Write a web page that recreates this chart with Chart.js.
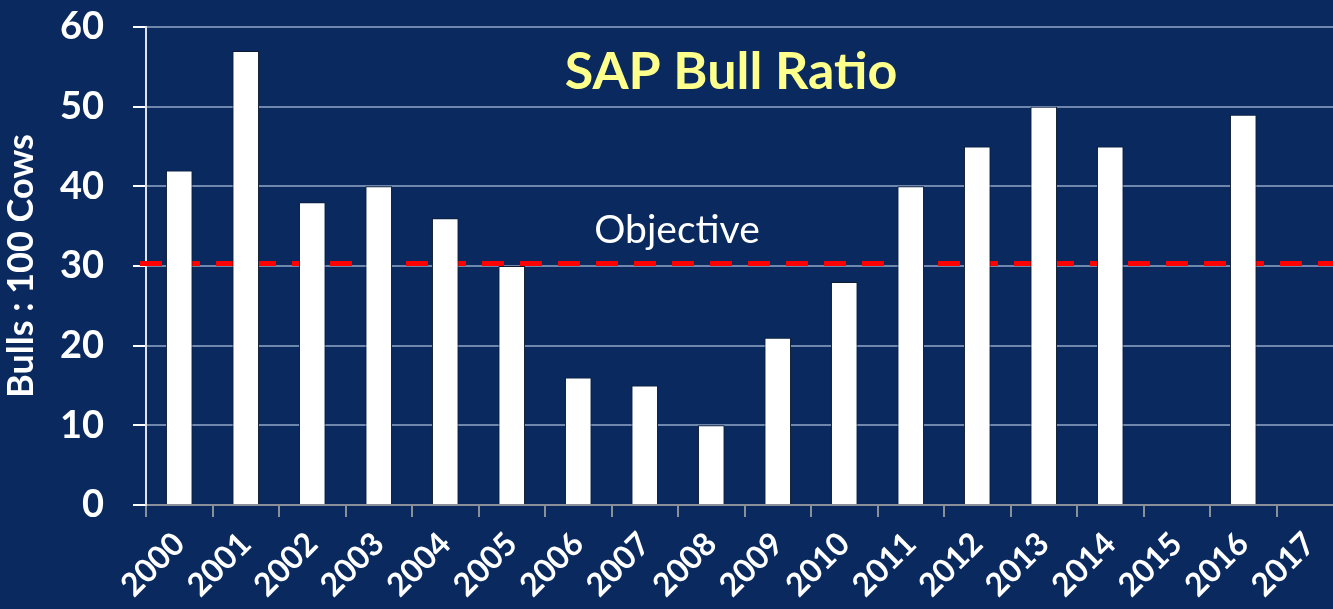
<!DOCTYPE html>
<html>
<head>
<meta charset="utf-8">
<script src="https://cdn.jsdelivr.net/npm/chart.js@4.4.1/dist/chart.umd.min.js"></script>
<style>
    html, body { margin: 0; padding: 0; background: #0a2a5f; overflow: hidden; }
    #wrap { width: 1345px; height: 609px; }
</style>
</head>
<body>
<div id="wrap"><canvas id="chart"></canvas></div>
<script>
"use strict";

const years = ["2000", "2001", "2002", "2003", "2004", "2005", "2006", "2007", "2008",
    "2009", "2010", "2011", "2012", "2013", "2014", "2015", "2016", "2017"];
const bullRatio = [42, 57, 38, 40, 36, 30, 16, 15, 10, 21, 28, 40, 45, 50, 45, null, 49, null];
const objective = 30.3;
const chartTitle = "SAP Bull Ratio";
const objectiveLabel = "Objective";
const yAxisTitle = "Bulls : 100 Cows";

const FONT = "Lato, 'Open Sans', sans-serif";

// red dashed objective line (behind the bars) + texts inside the plot
const overlay = {
    id: "overlay",
    beforeDatasetsDraw(chart) {
        const { ctx, chartArea, scales } = chart;
        const y = scales.y.getPixelForValue(objective);
        ctx.save();
        ctx.strokeStyle = "#ff0000";
        ctx.lineWidth = 5;
        ctx.setLineDash([22, 16]);
        ctx.beginPath();
        ctx.moveTo(chartArea.left - 6, y);
        ctx.lineTo(chartArea.right, y);
        ctx.stroke();
        ctx.restore();
    },
    afterDatasetsDraw(chart) {
        const { ctx, scales } = chart;
        ctx.save();
        ctx.textAlign = "center";
        ctx.textBaseline = "middle";
        ctx.fillStyle = "#ffff8c";
        ctx.font = "bold 52px " + FONT;
        ctx.fillText(chartTitle, 731, 72);
        ctx.fillStyle = "#ffffff";
        ctx.font = "39px " + FONT;
        ctx.fillText(objectiveLabel, 677, scales.y.getPixelForValue(objective) - 33);
        ctx.restore();
    }
};

new Chart(document.getElementById("chart"), {
    type: "bar",
    data: {
        labels: years,
        datasets: [{
            label: "Bulls : 100 Cows",
            data: bullRatio,
            backgroundColor: "#ffffff",
            borderColor: "#0d1a30",
            borderWidth: 1,
            barPercentage: 0.4,
            categoryPercentage: 1.0,
        }]
    },
    options: {
        responsive: true,
        maintainAspectRatio: false,
        animation: false,
        layout: { padding: { top: 27, right: 2, left: 0, bottom: 0 } },
        plugins: {
            legend: { display: false },
            tooltip: { enabled: false },
        },
        scales: {
            x: {
                grid: {
                    offset: true,
                    drawOnChartArea: false,
                    color: "#8a8f99",
                    tickLength: 12,
                    lineWidth: 2,
                },
                border: { color: "#8a8f99", width: 2 },
                ticks: {
                    color: "#ffffff",
                    font: { family: FONT, size: 32, weight: "bold" },
                    minRotation: 45,
                    maxRotation: 45,
                    padding: 8,
                    autoSkip: false,
                },
                afterFit(scale) { scale.height = 104; }
            },
            y: {
                min: 0,
                max: 60,
                grid: {
                    color: (c) => c.tick.value % 10 === 0 ? "#6f86ad" : "rgba(0,0,0,0)",
                    tickColor: "#ffffff",
                    lineWidth: 2,
                    tickLength: 13,
                },
                border: { color: "#dde3ee", width: 2 },
                ticks: {
                    stepSize: 5,
                    color: "#ffffff",
                    font: { family: FONT, size: 38, weight: "bold" },
                    padding: 29,
                    callback: (v) => v % 10 === 0 ? v : "",
                },
                title: {
                    display: true,
                    text: yAxisTitle,
                    color: "#ffffff",
                    font: { family: FONT, size: 36, weight: "bold" },
                    padding: { top: 0, bottom: 0 },
                },
                afterFit(scale) {
                    scale.width = 146;
                    scale.paddingTop = 0;
                    scale.paddingBottom = 0;
                }
            }
        }
    },
    plugins: [overlay]
});
</script>
</body>
</html>
